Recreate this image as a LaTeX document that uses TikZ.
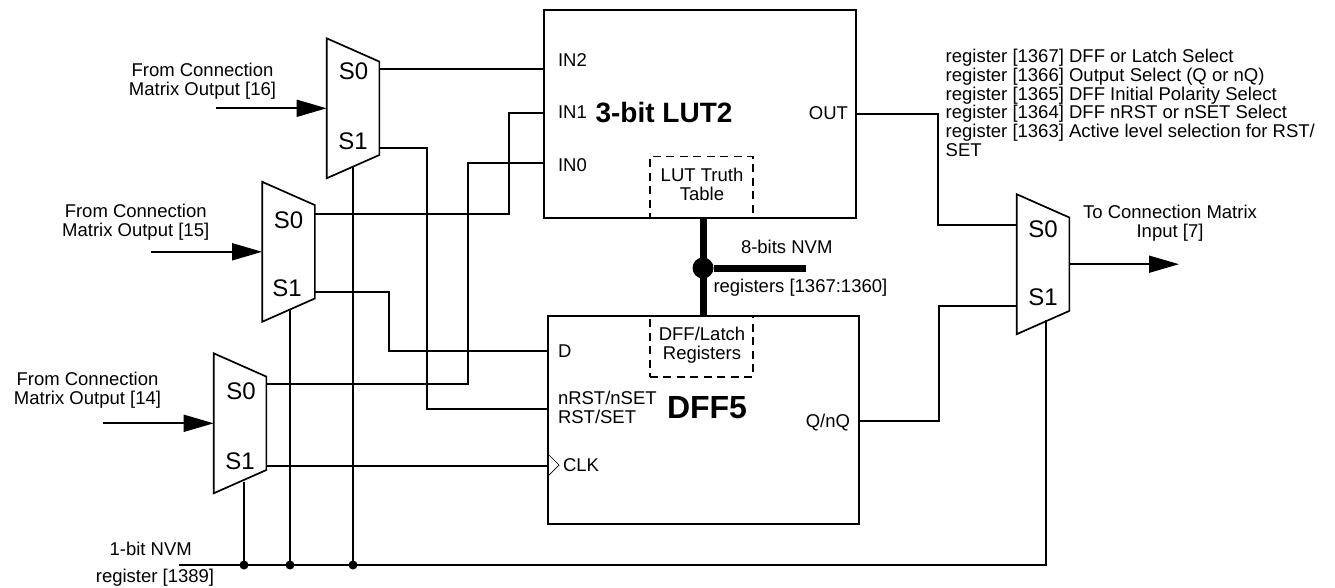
\documentclass[tikz,border=0pt]{standalone}
\usepackage{fontspec}
\setmainfont{Liberation Sans}
\usetikzlibrary{arrows.meta,calc}
\tikzset{
  wire/.style={line width=1.7pt,line join=miter},
  arrowwire/.style={wire,-{Triangle[length=30pt,width=17pt]}},
  bus/.style={line width=7pt},
  blockbox/.style={draw,line width=1.7pt,inner sep=0pt,outer sep=0pt,rectangle},
  dashbox/.style={draw,line width=1.7pt,inner sep=0pt,outer sep=0pt,rectangle,dash pattern=on 8pt off 5.5pt,minimum width=103pt},
  muxframe/.style={inner sep=0pt,outer sep=0pt,rectangle,minimum width=52.7pt,minimum height=140pt},
  dotnode/.style={circle,fill=black,inner sep=0pt,outer sep=0pt,minimum size=9pt},
  lbl/.style={inner sep=0pt,outer sep=0pt,font=\fontsize{18.5}{18.7}\selectfont,text height=13.3pt,text depth=0pt},
  lbll/.style={lbl,anchor=west},
  multi/.style={lbl,align=center},
  muxlbl/.style={inner sep=0pt,outer sep=0pt,font=\fontsize{24}{24}\selectfont,text height=17.2pt,text depth=0pt},
  biglbl/.style={inner sep=0pt,outer sep=0pt,font=\fontsize{32}{32}\selectfont\bfseries,text height=23pt,text depth=0pt},
}
\newcommand{\muxshape}[2]{%
  \node[muxframe] (#1) at (#2) {};
  \draw[line width=1.7pt,line join=miter] (#1.north west) -- ($(#1.north east)+(0,23.3)$) -- ($(#1.south east)+(0,-23.3)$) -- (#1.south west) -- cycle;
}
\begin{document}
\begin{tikzpicture}[x=1pt,y=-1pt]
\useasboundingbox[fill=white] (0,0) rectangle (1335,588);
% dashed boxes below the blocks
\node[dashbox,minimum height=61.3pt] (luttt) at (701.2,187.3) {};
\node[dashbox,minimum height=61pt] (dffreg) at (701.2,346.5) {};
% blocks
\node[blockbox,minimum width=312pt,minimum height=208pt] (lut) at (700,114) {};
\node[blockbox,minimum width=311pt,minimum height=208.3pt] (dff) at (703.5,419.9) {};
% muxes
\muxshape{ma}{353,108.3}
\muxshape{mb}{288.5,251.8}
\muxshape{mc}{240,423.3}
\muxshape{md}{1043,264.2}
\node[muxlbl] (mas0) at (353.6,70.5) {S0};
\node[muxlbl] (mas1) at (353,141) {S1};
\node[muxlbl] (mbs0) at (288.5,220) {S0};
\node[muxlbl] (mbs1) at (287,288) {S1};
\node[muxlbl] (mcs0) at (241,390.7) {S0};
\node[muxlbl] (mcs1) at (240,460.7) {S1};
\node[muxlbl] (mds0) at (1043,229) {S0};
\node[muxlbl] (mds1) at (1043,297) {S1};
% port coordinates
\coordinate (ain) at (216,108.3);
\coordinate (bin) at (151,251.8);
\coordinate (cin) at (103,423.3);
\coordinate (dout) at (1179,264.2);
\coordinate (aq0) at (379.3,69);
\coordinate (aq1) at (379.3,147.7);
\coordinate (bq0) at (314.8,213.7);
\coordinate (bq1) at (314.8,292);
\coordinate (cq0) at (266.3,384);
\coordinate (cq1) at (266.3,465.7);
\coordinate (dd0) at (1016.7,224.7);
\coordinate (dd1) at (1016.7,306);
\coordinate (lout) at (856,114);
\coordinate (qout) at (859,420.7);
\coordinate (nvmstart) at (178.6,565);
\coordinate (amid) at (353,166.5);
\coordinate (bmid) at (290,310);
\coordinate (cmid) at (244,481.8);
\coordinate (dmid) at (1046,320);
\node[dotnode] (j3) at (244,565) {};
\node[dotnode] (j2) at (290,565) {};
\node[dotnode] (j1) at (353,565) {};
% inputs and output
\draw[arrowwire] (ain) -- (ma.west);
\draw[arrowwire] (bin) -- (mb.west);
\draw[arrowwire] (cin) -- (mc.west);
\draw[arrowwire] (md.east) -- (dout);
% wires
\draw[wire] (aq0) -- (aq0 -| lut.west);
\draw[wire] (aq1) -| (427,409) -- (427,409 -| dff.west);
\draw[wire] (bq0) -| (509,113) -- (509,113 -| lut.west);
\draw[wire] (bq1) -| (389,351) -- (389,351 -| dff.west);
\draw[wire] (cq0) -| (468,163) -- (468,163 -| lut.west);
\draw[wire] (cq1) -- (cq1 -| dff.west);
\draw[wire] (lout) -| (938,224.7) -- (dd0);
\draw[wire] (qout) -| (939,306) -- (dd1);
\draw[wire] (nvmstart) -| (dmid);
\draw[wire] (amid) -- (j1);
\draw[wire] (bmid) -- (j2);
\draw[wire] (cmid) -- (j3);
% bus
\node[circle,fill=black,inner sep=0pt,outer sep=0pt,minimum size=21pt] (busj) at (703,268) {};
\coordinate (busend) at (806,268);
\draw[bus] (busj |- lut.south) -- (busj |- dff.north);
\draw[bus] (busj) -- (busend);
% clock
\coordinate (clka) at (548,454);
\coordinate (clkb) at (559,465);
\coordinate (clkc) at (548,476);
\draw[line width=0.7pt] (clka) -- (clkb) -- (clkc);
% labels
\node[lbll] (in2) at (558,60) {IN2};
\node[lbll] (in1) at (558,112) {IN1};
\node[lbll] (in0) at (558,165) {IN0};
\node[lbl,anchor=east] (outl) at (848,113) {OUT};
\node[biglbl,font=\fontsize{28}{28}\selectfont\bfseries,text height=20pt] (lutname) at (664,113) {3-bit LUT2};
\node[multi] (luttx) at (702,194) {LUT Truth\\Table};
\node[lbll] (bits) at (741,247) {8-bits NVM};
\node[lbll] (regs) at (713.5,286) {registers [1367:1360]};
\node[multi] (dfftx) at (702,353) {DFF/Latch\\Registers};
\node[lbll] (dl) at (558,351) {D};
\node[multi,align=left,anchor=west] (rstl) at (558,417) {nRST/nSET\\RST/SET};
\node[biglbl] (dffname) at (707,407) {DFF5};
\node[lbl,anchor=east] (ql) at (850,420.5) {Q/nQ};
\node[lbll] (clkl) at (563,465) {CLK};
\node[multi] (fa) at (202.5,89) {From Connection\\Matrix Output [16]};
\node[multi] (fb) at (135.7,230) {From Connection\\Matrix Output [15]};
\node[multi] (fc) at (87.5,397.7) {From Connection\\Matrix Output [14]};
\node[lbl] (nvma) at (150.7,549) {1-bit NVM};
\node[lbl] (nvmb) at (155,576) {register [1389]};
\node[multi,align=left,anchor=west] (regl) at (945.7,149.7) {register [1367] DFF or Latch Select\\register [1366] Output Select (Q or nQ)\\register [1365] DFF Initial Polarity Select\\register [1364] DFF nRST or nSET Select\\register [1363] Active level selection for RST/\\SET};
\node[multi] (tom) at (1170,231) {To Connection Matrix\\Input [7]};
\end{tikzpicture}
\end{document}
